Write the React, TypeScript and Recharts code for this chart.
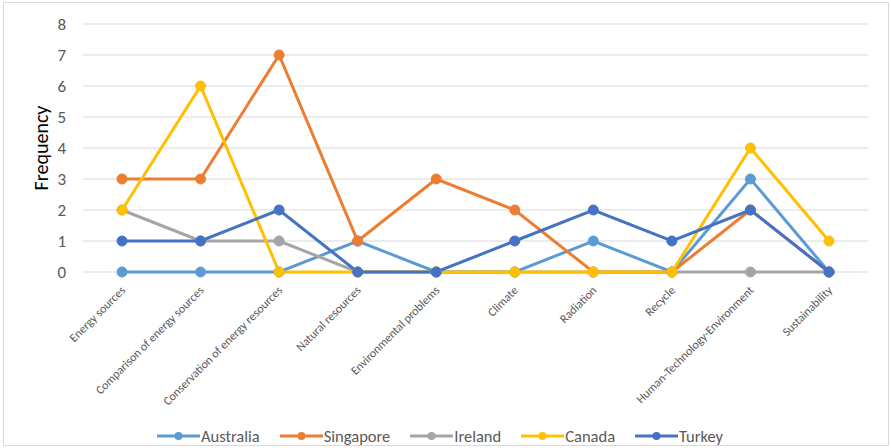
import { CartesianGrid, Legend, Line, LineChart, XAxis, YAxis } from 'recharts'

const topics = [
    'Energy sources',
    'Comparison of energy sources',
    'Conservation of energy resources',
    'Natural resources',
    'Environmental problems',
    'Climate',
    'Radiation',
    'Recycle',
    'Human-Technology-Environment',
    'Sustainability',
]

const australia = [0, 0, 0, 1, 0, 0, 1, 0, 3, 0]
const singapore = [3, 3, 7, 1, 3, 2, 0, 0, 2, 0]
const ireland = [2, 1, 1, 0, 0, 0, 0, 0, 0, 0]
const canada = [2, 6, 0, 0, 0, 0, 0, 0, 4, 1]
const turkey = [1, 1, 2, 0, 0, 1, 2, 1, 2, 0]

const yTicks = [0, 1, 2, 3, 4, 5, 6, 7, 8]

const series = [
    { key: 'Australia', color: '#5B9BD5' },
    { key: 'Singapore', color: '#ED7D31' },
    { key: 'Ireland', color: '#A5A5A5' },
    { key: 'Canada', color: '#FFC000' },
    { key: 'Turkey', color: '#4472C4' },
]

const data = topics.map((topic, i) => ({
    topic,
    Australia: australia[i],
    Singapore: singapore[i],
    Ireland: ireland[i],
    Canada: canada[i],
    Turkey: turkey[i],
}))

const font = 'Calibri, Carlito, "Open Sans", sans-serif'

const TopicTick = (props: any) => {
    const { x, y, payload } = props
    return (
        <g transform={`translate(${x + 4},${y + 11})`}>
            <text
                transform="rotate(-45)"
                textAnchor="end"
                fontSize={12}
                fill="#595959"
                fontFamily={font}
            >
                {payload.value}
            </text>
        </g>
    )
}

const LegendRow = () => (
    <div
        style={{
            display: 'flex',
            justifyContent: 'center',
            alignItems: 'center',
            gap: 20,
            fontFamily: font,
            fontSize: 16.5,
            color: '#595959',
            paddingTop: 6,
            paddingLeft: 12,
        }}
    >
        {series.map((s) => (
            <div key={s.key} style={{ display: 'flex', alignItems: 'center', gap: 1 }}>
                <svg width={43} height={12}>
                    <line x1={0} y1={6} x2={43} y2={6} stroke={s.color} strokeWidth={3} />
                    <circle cx={21.5} cy={6} r={4} fill={s.color} />
                </svg>
                <span>{s.key}</span>
            </div>
        ))}
    </div>
)

const App = () => {
    return (
        <div style={{ position: 'fixed', left: 0, top: 0, width: 891, height: 448, background: '#fff' }}>
            <div
                style={{
                    position: 'absolute',
                    left: 3,
                    top: 2,
                    width: 884,
                    height: 442,
                    border: '1px solid #d9d9d9',
                }}
            />
            <LineChart
                width={891}
                height={448}
                data={data}
                margin={{ top: 24, right: 23, left: 0, bottom: 0 }}
            >
                <CartesianGrid vertical={false} stroke="#d9d9d9" />
                <XAxis
                    dataKey="topic"
                    height={148}
                    axisLine={false}
                    tickLine={false}
                    interval={0}
                    padding={{ left: 39, right: 39 }}
                    tick={<TopicTick />}
                />
                <YAxis
                    width={83}
                    domain={[0, 8]}
                    ticks={yTicks}
                    axisLine={false}
                    tickLine={false}
                    tickSize={0}
                    tickMargin={17}
                    tick={{ fill: '#595959', fontSize: 17, fontFamily: font }}
                    label={{
                        value: 'Frequency',
                        angle: -90,
                        position: 'center',
                        dx: -1,
                        fill: '#000',
                        fontSize: 20,
                        fontFamily: font,
                    }}
                />
                <Legend verticalAlign="bottom" height={28} content={<LegendRow />} />
                {series.map((s) => (
                    <Line
                        key={s.key}
                        type="linear"
                        dataKey={s.key}
                        stroke={s.color}
                        strokeWidth={3}
                        dot={{ r: 5, fill: s.color, stroke: s.color, strokeWidth: 1 }}
                        activeDot={false}
                        isAnimationActive={false}
                    />
                ))}
            </LineChart>
        </div>
    )
}

export default App
